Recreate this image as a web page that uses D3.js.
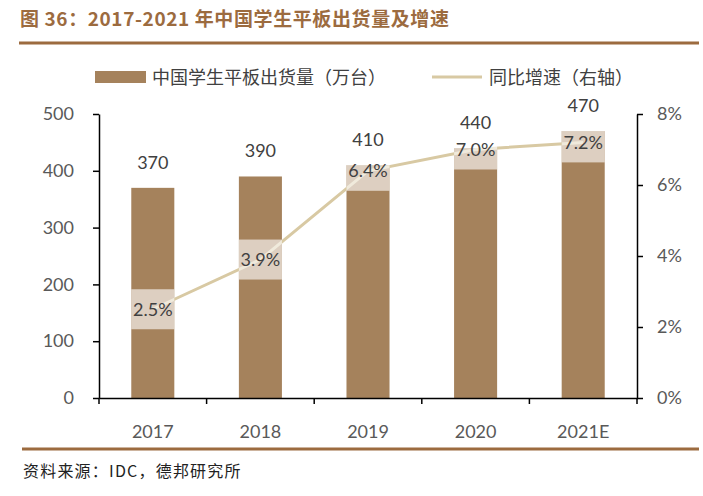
<!DOCTYPE html>
<html><head><meta charset="utf-8">
<script src="https://cdn.jsdelivr.net/npm/d3@7/dist/d3.min.js"></script>
<style>
body{margin:0;background:#fff;}
svg{display:block;}
</style></head>
<body>
<svg id="chart" width="703" height="496"></svg>
<script>
const categories = ["2017","2018","2019","2020","2021E"];
const shipments = [370,390,410,440,470];
const growth = [0.025,0.039,0.064,0.070,0.072];
const growthLabels = ["2.5%","3.9%","6.4%","7.0%","7.2%"];
const leftTicks = [0,100,200,300,400,500];
const rightTicks = [0,0.02,0.04,0.06,0.08];
const titleText = "图 36：2017-2021 年中国学生平板出货量及增速";
const sourceText = "资料来源：IDC，德邦研究所";
const legendBar = "中国学生平板出货量（万台）";
const legendLine = "同比增速（右轴）";

const svg = d3.select("#chart");
const numFont = "Lato, 'Open Sans', sans-serif";
const cjkFont = "'Noto Sans CJK SC', sans-serif";
const brown = "#9C6B3F";
const barColor = "#A5825C";
const lineColor = "#D8C9A3";
const textColor = "#404040";

const m = {left:99, right:637, top:114, bottom:398};
const x = d3.scaleBand().domain(categories).range([m.left, m.right]).paddingInner(0.6).paddingOuter(0.3);
const y = d3.scaleLinear().domain([0,500]).range([m.bottom, m.top]);
const y2 = d3.scaleLinear().domain([0,0.08]).range([m.bottom, m.top]);

// Title
svg.append("text").attr("x",20).attr("y",26).attr("font-family",cjkFont).attr("font-weight","bold")
  .attr("font-size",19).attr("fill",brown).attr("letter-spacing",0.6).text(titleText);
svg.append("line").attr("x1",19).attr("x2",699).attr("y1",43).attr("y2",43).attr("stroke",brown).attr("stroke-width",3);

// Legend
svg.append("rect").attr("x",95).attr("y",71).attr("width",51).attr("height",12).attr("fill",barColor);
svg.append("text").attr("x",152).attr("y",83.5).attr("font-family",cjkFont).attr("font-size",18).attr("fill",textColor).text(legendBar);
svg.append("line").attr("x1",432).attr("x2",482).attr("y1",77).attr("y2",77).attr("stroke",lineColor).attr("stroke-width",3);
svg.append("text").attr("x",489).attr("y",83.5).attr("font-family",cjkFont).attr("font-size",18).attr("fill",textColor).text(legendLine);

// Bars
svg.append("g").selectAll("rect").data(shipments).join("rect")
  .attr("x",(d,i)=>x(categories[i])).attr("width",x.bandwidth())
  .attr("y",d=>y(d)).attr("height",d=>y(0)-y(d)).attr("fill",barColor);

// Line
const line = d3.line().x((d,i)=>x(categories[i])+x.bandwidth()/2).y(d=>y2(d));
svg.append("path").datum(growth).attr("d",line).attr("fill","none").attr("stroke",lineColor).attr("stroke-width",3);

// Bar value labels
svg.append("g").selectAll("text").data(shipments).join("text")
  .attr("x",(d,i)=>x(categories[i])+x.bandwidth()/2).attr("y",d=>y(d)-19)
  .attr("text-anchor","middle").attr("font-family",numFont).attr("font-size",18).attr("fill",textColor).text(d=>d);

// Growth labels with translucent white box
const gl = svg.append("g").selectAll("g").data(growth).join("g")
  .attr("transform",(d,i)=>`translate(${x(categories[i])+x.bandwidth()/2},${y2(d)})`);
gl.append("rect").attr("x",-x.bandwidth()/2).attr("width",x.bandwidth()).attr("y",-20).attr("height",40)
  .attr("fill","#fff").attr("fill-opacity",0.62);
gl.append("text").attr("y",6.5).attr("text-anchor","middle").attr("font-family",numFont).attr("font-size",18)
  .attr("fill",textColor).text((d,i)=>growthLabels[i]);

// Axes
const axisStyle = g => {
  g.selectAll(".domain").attr("stroke","#000").attr("stroke-width",1.5);
  g.selectAll(".tick line").attr("stroke","#000").attr("stroke-width",1.5);
  g.selectAll(".tick text").attr("font-family",numFont).attr("font-size",18).attr("fill","#595959");
};
svg.append("g").attr("transform",`translate(${m.left},0)`)
  .call(d3.axisLeft(y).tickValues(leftTicks).tickSize(6).tickSizeOuter(0).tickPadding(19))
  .call(axisStyle);
svg.append("g").attr("transform",`translate(${m.right},0)`)
  .call(d3.axisRight(y2).tickValues(rightTicks).tickFormat(d3.format(".0%")).tickSize(6).tickSizeOuter(0).tickPadding(14))
  .call(axisStyle);
const xAxis = svg.append("g").attr("transform",`translate(0,${m.bottom})`)
  .call(d3.axisBottom(x).tickSize(0).tickPadding(27).tickSizeOuter(0))
  .call(axisStyle);
const step = x.step();
const bounds = d3.range(categories.length+1).map(i=>m.left + i*step);
xAxis.selectAll(".bound").data(bounds).join("line").attr("class","bound")
  .attr("x1",d=>d).attr("x2",d=>d).attr("y1",0).attr("y2",6).attr("stroke","#000").attr("stroke-width",1.5);

// Source
svg.append("line").attr("x1",22).attr("x2",699).attr("y1",449).attr("y2",449).attr("stroke",brown).attr("stroke-width",3);
svg.append("text").attr("x",23).attr("y",477).attr("font-family",cjkFont).attr("font-size",16).attr("fill","#222")
  .attr("letter-spacing",1.2).text(sourceText);
</script>
</body></html>
